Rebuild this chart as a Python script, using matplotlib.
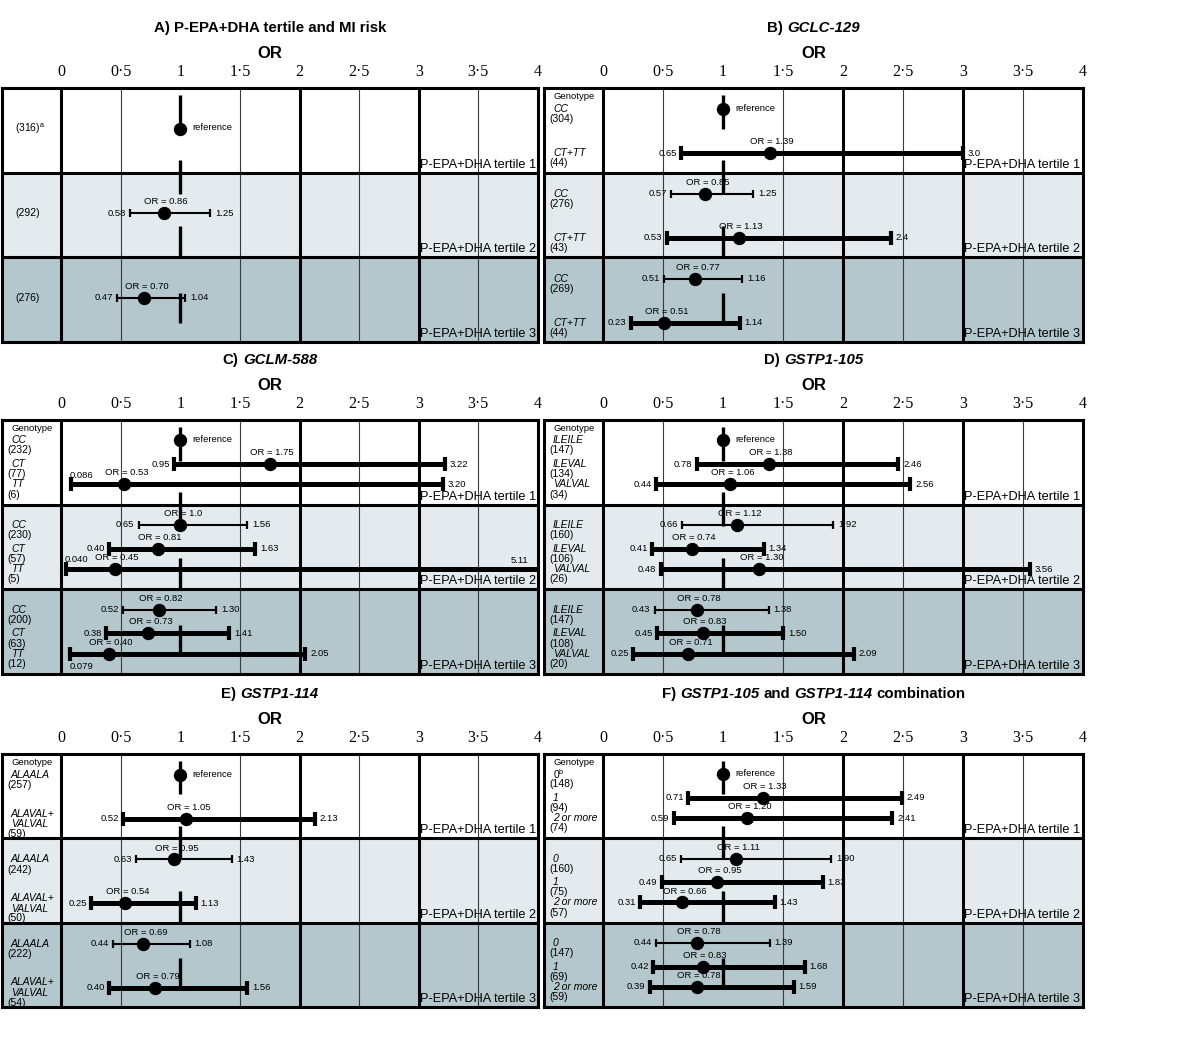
import matplotlib
matplotlib.use("Agg")
import matplotlib.pyplot as plt
from matplotlib.transforms import IdentityTransform

plt.rcParams['font.family'] = ['Liberation Sans', 'DejaVu Sans']
plt.rcParams['mathtext.fontset'] = 'custom'
plt.rcParams['mathtext.rm'] = 'Liberation Sans'
plt.rcParams['mathtext.it'] = 'Liberation Sans:italic'

W, H = 1200, 1046

# ---------------- data ----------------
tertiles = ['P-EPA+DHA tertile 1', 'P-EPA+DHA tertile 2', 'P-EPA+DHA tertile 3']
ticks = [0, 0.5, 1, 1.5, 2, 2.5, 3, 3.5, 4]
tick_labels = ['0', '0·5', '1', '1·5', '2', '2·5', '3', '3·5', '4']

# None in the OR lists = reference group
# A) tertile only
a_genotypes = ['']
a_n = [['316'], ['292'], ['276']]
a_or = [[None], ['0.86'], ['0.70']]
a_lo = [[None], ['0.58'], ['0.47']]
a_hi = [[None], ['1.25'], ['1.04']]

# B) GCLC-129
b_genotypes = ['CC', 'CT+TT']
b_n = [['304', '44'], ['276', '43'], ['269', '44']]
b_or = [[None, '1.39'], ['0.85', '1.13'], ['0.77', '0.51']]
b_lo = [[None, '0.65'], ['0.57', '0.53'], ['0.51', '0.23']]
b_hi = [[None, '3.0'], ['1.25', '2.4'], ['1.16', '1.14']]

# C) GCLM-588
c_genotypes = ['CC', 'CT', 'TT']
c_n = [['232', '77', '6'], ['230', '57', '5'], ['200', '63', '12']]
c_or = [[None, '1.75', '0.53'], ['1.0', '0.81', '0.45'], ['0.82', '0.73', '0.40']]
c_lo = [[None, '0.95', '0.086'], ['0.65', '0.40', '0.040'], ['0.52', '0.38', '0.079']]
c_hi = [[None, '3.22', '3.20'], ['1.56', '1.63', '5.11'], ['1.30', '1.41', '2.05']]

# D) GSTP1-105
d_genotypes = ['ILEILE', 'ILEVAL', 'VALVAL']
d_n = [['147', '134', '34'], ['160', '106', '26'], ['147', '108', '20']]
d_or = [[None, '1.38', '1.06'], ['1.12', '0.74', '1.30'], ['0.78', '0.83', '0.71']]
d_lo = [[None, '0.78', '0.44'], ['0.66', '0.41', '0.48'], ['0.43', '0.45', '0.25']]
d_hi = [[None, '2.46', '2.56'], ['1.92', '1.34', '3.56'], ['1.38', '1.50', '2.09']]

# E) GSTP1-114
e_genotypes = ['ALAALA', 'ALAVAL+\nVALVAL']
e_n = [['257', '59'], ['242', '50'], ['222', '54']]
e_or = [[None, '1.05'], ['0.95', '0.54'], ['0.69', '0.79']]
e_lo = [[None, '0.52'], ['0.63', '0.25'], ['0.44', '0.40']]
e_hi = [[None, '2.13'], ['1.43', '1.13'], ['1.08', '1.56']]

# F) GSTP1-105 and GSTP1-114 combination
f_genotypes = ['0', '1', '2 or more']
f_n = [['148', '94', '74'], ['160', '75', '57'], ['147', '69', '59']]
f_or = [[None, '1.33', '1.20'], ['1.11', '0.95', '0.66'], ['0.78', '0.83', '0.78']]
f_lo = [[None, '0.71', '0.59'], ['0.65', '0.49', '0.31'], ['0.44', '0.42', '0.39']]
f_hi = [[None, '2.49', '2.41'], ['1.90', '1.83', '1.43'], ['1.39', '1.68', '1.59']]

# ---------------- style ----------------
row_colors = ['white', '#e4ebee', '#b4c7cc']
entry_pos = {1: [0.48], 2: [0.25, 0.77], 3: [0.24, 0.52, 0.76]}
ref_segments = [(0.08, 0.48), (0.85, 1.25), (1.63, 2.0), (2.42, 2.78)]
small = 6.8

fig = plt.figure(figsize=(W / 100, H / 100), dpi=100)
fig.patch.set_facecolor('white')
renderer = fig.canvas.get_renderer()


def rich_title(cx, y, parts, size=10.8):
    # bold title made of upright / italic pieces, centred on cx (pixels)
    gap = 0.278 * size * 100 / 72
    objs, widths = [], []
    for s, it in parts:
        t = fig.text(0, H - y, s, transform=IdentityTransform(), fontsize=size,
                     fontweight='bold', style='italic' if it else 'normal',
                     ha='left', va='center')
        objs.append(t)
        widths.append(t.get_window_extent(renderer).width)
    x = cx - (sum(widths) + gap * (len(parts) - 1)) / 2
    for t, w in zip(objs, widths):
        t.set_x(x)
        x += w + gap


def draw_panel(box, title, genotypes, n, ors, los, his, header=True,
               name_note=None, n_note=None, lo_below=()):
    l, t, r, b = box
    ax = fig.add_axes([l / W, 1 - b / H, (r - l) / W, (b - t) / H])
    ppu = (r - l - 59) / 4.0
    xmin = -59 / ppu
    ax.set_xlim(xmin, 4)
    ax.set_ylim(3, 0)

    for i in range(3):
        ax.axhspan(i, i + 1, color=row_colors[i], lw=0, zorder=0)
    for v in [0.5, 1.5, 2.5, 3.5]:
        ax.axvline(v, color='#3a3a3a', lw=0.8, zorder=1)
    for v in [0, 2, 3]:
        ax.axvline(v, color='black', lw=2.2, zorder=2)
    for v in [1, 2]:
        ax.axhline(v, color='black', lw=2.2, zorder=2)
    for s in ax.spines.values():
        s.set_linewidth(2.2)
        s.set_zorder(6)
    for a, c in ref_segments:
        ax.vlines(1, a, c, color='black', lw=2.4, zorder=3)

    ax.set_yticks([])
    ax.set_xticks(ticks)
    ax.set_xticklabels(tick_labels, fontfamily='Liberation Serif', fontsize=11.5)
    ax.tick_params(axis='x', top=True, bottom=False, labeltop=True,
                   labelbottom=False, length=0, pad=6)

    cx = (l + r) / 2
    rich_title(cx, t - 60, title)
    fig.text(cx / W, 1 - (t - 34) / H, 'OR', fontsize=12, fontweight='bold',
             ha='center', va='center')

    x_name = xmin + 9 / ppu
    x_n = xmin + 5 / ppu
    if header:
        ax.text(x_name, 0.1, 'Genotype', fontsize=6.8, ha='left', va='center')

    for i in range(3):
        ax.text(3.01, i + 1 - 0.06, tertiles[i], fontsize=9.2, ha='left',
                va='baseline', zorder=5)
        ys = entry_pos[len(genotypes)]
        for j, g in enumerate(genotypes):
            y = i + ys[j]
            # label column
            if g:
                name = g
                if name_note and i == 0 and j == 0:
                    name = r'$\mathit{%s}^{\mathrm{%s}}$' % (g, name_note)
                ax.text(x_name, y, name, fontsize=7.5, style='italic',
                        ha='left', va='center', linespacing=1.1)
                nl = g.count('\n') + 1
                ax.text(x_n, y + 0.06 * nl + 0.06, '(%s)' % n[i][j],
                        fontsize=7.5, ha='left', va='center')
            else:
                lab = '(%s)' % n[i][j]
                if n_note and i == 0:
                    lab += r'$^{\mathrm{%s}}$' % n_note
                ax.text(xmin + 13 / ppu, y, lab, fontsize=7.5, ha='left',
                        va='center')

            o = ors[i][j]
            if o is None:
                ax.plot(1, y, 'o', color='black', ms=8.6, zorder=5)
                ax.text(1.1, y - 0.01, 'reference', fontsize=small,
                        ha='left', va='center')
                continue
            ov, lv, hv = float(o), float(los[i][j]), float(his[i][j])
            if j > 0:
                lw, cs, ct = 3.6, 5.0, 3.0
            else:
                lw, cs, ct = 1.5, 2.8, 1.6
            ax.errorbar(ov, y, xerr=[[ov - lv], [hv - ov]], fmt='o',
                        color='black', ms=8.6, elinewidth=lw, capsize=cs,
                        capthick=ct, zorder=5)
            ax.text(ov + 0.02, y - 0.135, 'OR = %s' % o, fontsize=small,
                    ha='center', va='center', zorder=6)
            if lv < 0.1:
                dy = 0.15 if (i, j) in lo_below else -0.11
                ax.text(lv - 0.01, y + dy, los[i][j], fontsize=small,
                        ha='left', va='center', zorder=6)
            else:
                ax.text(lv - 0.035, y, los[i][j], fontsize=small,
                        ha='right', va='center', zorder=6)
            if hv > 4:
                ax.text(3.92, y - 0.1, his[i][j], fontsize=small,
                        ha='right', va='center', zorder=6)
            else:
                ax.text(hv + 0.04, y, his[i][j], fontsize=small,
                        ha='left', va='center', zorder=6)
    return ax


draw_panel((2, 88, 538, 342), [('A) P-EPA+DHA tertile and MI risk', False)],
           a_genotypes, a_n, a_or, a_lo, a_hi, header=False, n_note='a')
draw_panel((544, 88, 1083, 342), [('B)', False), ('GCLC-129', True)],
           b_genotypes, b_n, b_or, b_lo, b_hi)
draw_panel((2, 420, 538, 674), [('C)', False), ('GCLM-588', True)],
           c_genotypes, c_n, c_or, c_lo, c_hi, lo_below={(2, 2)})
draw_panel((544, 420, 1083, 674), [('D)', False), ('GSTP1-105', True)],
           d_genotypes, d_n, d_or, d_lo, d_hi)
draw_panel((2, 754, 538, 1007), [('E)', False), ('GSTP1-114', True)],
           e_genotypes, e_n, e_or, e_lo, e_hi)
draw_panel((544, 754, 1083, 1007),
           [('F)', False), ('GSTP1-105', True), ('and', False),
            ('GSTP1-114', True), ('combination', False)],
           f_genotypes, f_n, f_or, f_lo, f_hi, name_note='b')

fig.savefig('out.png', dpi=100, facecolor='white')
